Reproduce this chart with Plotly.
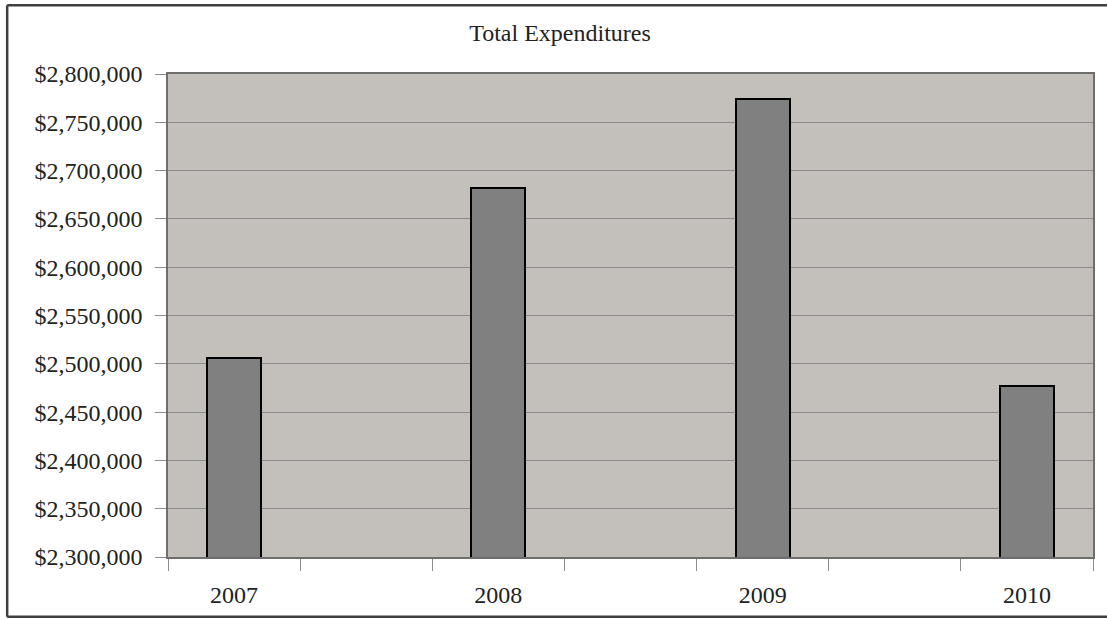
import plotly.graph_objects as go

years = [2007, 2008, 2009, 2010]
year_labels = ["2007", "2008", "2009", "2010"]
expenditures = [2506500, 2682000, 2774500, 2477000]

W, H = 1107, 620
L, R, T, B = 168, 13, 74, 61
pw, ph = W - L - R, H - T - B

FONT = "Liberation Serif, Times New Roman, serif"

fig = go.Figure()
fig.add_trace(go.Bar(
    x=years, y=expenditures, width=0.204,
    marker=dict(color="#808080", line=dict(color="#000000", width=2)),
    hoverinfo="y",
))

def px_x(p):
    return (p - L) / pw

def px_y(p):
    return (H - B - p) / ph

# outer frame (top, left, bottom; right edge runs off the image)
frame = dict(color="#404040", width=2.5)
fig.add_shape(type="line", xref="paper", yref="paper", x0=px_x(7), x1=px_x(1115), y0=px_y(5), y1=px_y(5), line=frame)
fig.add_shape(type="line", xref="paper", yref="paper", x0=px_x(7), x1=px_x(7), y0=px_y(5), y1=px_y(619), line=frame)
fig.add_shape(type="line", xref="paper", yref="paper", x0=px_x(7), x1=px_x(1115), y0=px_y(619), y1=px_y(619), line=frame)

boundaries = [2006.75 + 0.5 * i for i in range(8)]

fig.update_layout(
    width=W, height=H,
    margin=dict(l=L, r=R, t=T, b=B),
    paper_bgcolor="white",
    plot_bgcolor="#C3C0BC",
    showlegend=False,
    font=dict(family=FONT, size=24, color="#222222"),
    title=dict(text="Total Expenditures", x=560 / W, xanchor="center",
               y=1 - 33 / H, yanchor="middle", font=dict(family=FONT, size=24, color="#222222")),
    bargap=0,
)
fig.update_xaxes(
    range=[2006.75, 2010.25],
    tickmode="array", tickvals=years, ticktext=year_labels,
    ticks="outside", ticklen=12, tickcolor="rgba(0,0,0,0)",
    ticklabelstandoff=3,
    showgrid=False, zeroline=False,
    showline=True, linecolor="#6e6e6e", linewidth=1.5, mirror=True,
    minor=dict(tickmode="array", tickvals=boundaries, ticks="outside", ticklen=12,
               tickcolor="#8c8c8c", tickwidth=1, showgrid=False),
    tickfont=dict(family=FONT, size=24, color="#222222"),
)
fig.update_yaxes(
    range=[2300000, 2800000], dtick=50000, tick0=2300000,
    tickprefix="$", tickformat=",d",
    ticks="outside", ticklen=11, tickcolor="#8c8c8c",
    ticklabelstandoff=8,
    showgrid=True, gridcolor="#8c8c8c", gridwidth=1,
    zeroline=False,
    showline=True, linecolor="#6e6e6e", linewidth=1.5, mirror=True,
    tickfont=dict(family=FONT, size=24, color="#222222"),
)

fig.write_html("out.html", config={"displayModeBar": False},
               post_script="document.body.style.margin='0';document.body.style.overflow='hidden';")
